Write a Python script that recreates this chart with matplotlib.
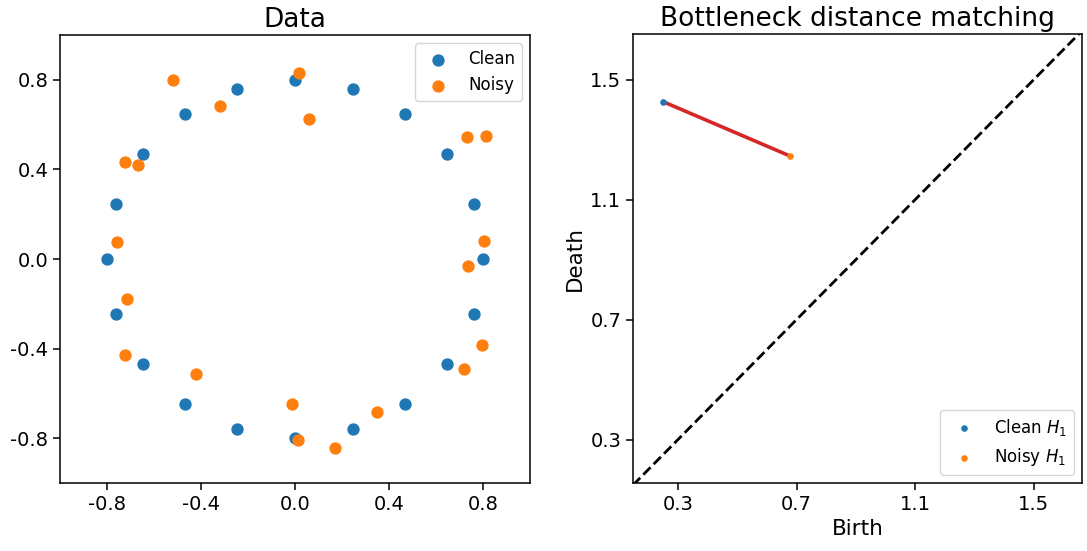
import numpy as np
import matplotlib
matplotlib.use('Agg')
import matplotlib.pyplot as plt

plt.rcParams['axes.unicode_minus'] = False

# point clouds
clean_x = [0.800, 0.761, 0.647, 0.470, 0.247, 0.000, -0.247, -0.470, -0.647, -0.761,
           -0.800, -0.761, -0.647, -0.470, -0.247, 0.000, 0.247, 0.470, 0.647, 0.761]
clean_y = [0.000, 0.247, 0.470, 0.647, 0.761, 0.800, 0.761, 0.647, 0.470, 0.247,
           0.000, -0.247, -0.470, -0.647, -0.761, -0.800, -0.761, -0.647, -0.470, -0.247]
noisy_x = [0.806, 0.813, 0.732, 0.058, 0.015, -0.320, -0.520, -0.667, -0.723, -0.756,
           -0.714, -0.723, -0.421, -0.011, 0.013, 0.169, 0.349, 0.720, 0.794, 0.737]
noisy_y = [0.079, 0.551, 0.545, 0.625, 0.832, 0.684, 0.800, 0.418, 0.434, 0.074,
           -0.178, -0.427, -0.514, -0.647, -0.810, -0.843, -0.681, -0.493, -0.382, -0.033]

# H1 diagrams (birth, death)
clean_h1 = [(0.250, 1.426)]
noisy_h1 = [(0.678, 1.245)]
lim = (0.148, 1.662)
ylim = (0.155, 1.652)
data_ticks = [-0.8, -0.4, 0.0, 0.4, 0.8]
pd_ticks = [0.3, 0.7, 1.1, 1.5]

fig = plt.figure(figsize=(10.87, 5.51), dpi=100)
ax1 = fig.add_axes([0.0552, 0.1234, 0.4324, 0.813])
ax2 = fig.add_axes([0.5823, 0.1234, 0.413, 0.815])

for ax in (ax1, ax2):
    ax.tick_params(labelsize=14, length=5, width=1.1)
    for s in ax.spines.values():
        s.set_linewidth(1.1)

ax1.scatter(clean_x, clean_y, s=62, color='C0', label='Clean')
ax1.scatter(noisy_x, noisy_y, s=62, color='C1', label='Noisy')
ax1.set_xlim(-1, 1)
ax1.set_ylim(-1, 1)
ax1.set_xticks(data_ticks)
ax1.set_yticks(data_ticks)
ax1.set_title('Data', fontsize=19)
ax1.legend(loc='upper right', fontsize=12)

ax2.plot(lim, lim, 'k--', lw=2, zorder=1)
cb, cd = zip(*clean_h1)
nb, nd = zip(*noisy_h1)
for (b0, d0), (b1, d1) in zip(clean_h1, noisy_h1):
    ax2.plot([b0, b1], [d0, d1], color='C3', lw=2.6, zorder=2)
ax2.scatter(cb, cd, s=14, color='C0', label='Clean $H_1$', zorder=3)
ax2.scatter(nb, nd, s=14, color='C1', label='Noisy $H_1$', zorder=3)
ax2.set_xlim(lim)
ax2.set_ylim(ylim)
ax2.set_xticks(pd_ticks)
ax2.set_yticks(pd_ticks)
ax2.set_xlabel('Birth', fontsize=15.5)
ax2.set_ylabel('Death', fontsize=15.5)
ax2.set_title('Bottleneck distance matching', fontsize=19)
ax2.legend(loc='lower right', fontsize=12)

fig.savefig('out.png', dpi=100)
